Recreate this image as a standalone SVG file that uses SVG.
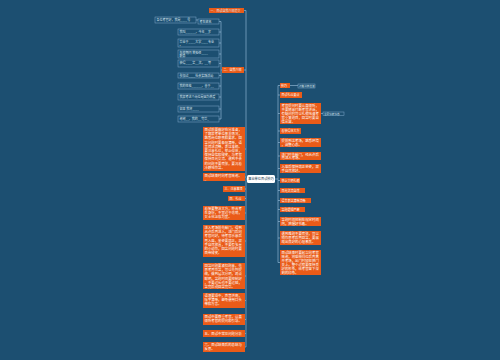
<svg xmlns="http://www.w3.org/2000/svg" width="500" height="360" viewBox="0 0 500 360">
<style>
.bg{fill:#1c4f71}
.o{fill:#ea5b18}
.ol{fill:none;stroke:#7fa9cc;stroke-width:.5}
.t{font-family:"Noto Sans CJK SC","Noto Sans",sans-serif;font-size:3.4px;fill:#ffffff}
.s{font-family:"Noto Sans CJK SC","Noto Sans",sans-serif;font-size:3px;fill:#dce8f2}
.ct{font-family:"Noto Sans CJK SC","Noto Sans",sans-serif;font-size:3.2px;fill:#1c3a52}
.c{fill:none;stroke:#9ec3e0;stroke-width:.6}
</style>
<rect class="bg" x="0" y="0" width="500" height="360"/>
<g id="connectors">
<path class="c" d="M246 10.5V347M244 10.5H246M244 70H246M245 149H246M245 177H246M245 189H246M245 198.5H246M245 213H246M245 241H246M245 276H246M245 300.5H246M245 319.5H246M245 333.5H246M245 347H246M247 179H246"/>
<path class="c" d="M275 179H278M278 85.5V262.5M278 85.5H280M278 95H280M278 113.5H280M278 131H280M278 142.5H280M278 156H280M278 168.5H280M278 180.5H280M278 190.5H280M278 200.5H280M278 209.5H280M278 221.5H280M278 238H280M278 262.5H280"/>
<path class="c" d="M221 21.5V119M222 70H221M219 21.5H221M219 32H221M219 43H221M219 54H221M219 63.5H221M219 75.5H221M219 86H221M219 97H221M219 109H221M219 119H221M196 20H198M290 85.5H298M321 113.5H323"/>
</g>
<g id="center">
<rect x="247" y="175" width="28" height="8" rx="1.5" fill="#ffffff"/>
<text class="ct" x="261" y="180.2" text-anchor="middle">事业单位面试技巧</text>
</g>
<g id="l0"><rect class="o" x="209" y="8" width="35" height="5"/><text class="s" x="210.5" y="11.6" fill="#fff">一、面试自我介绍范文</text></g>
<g id="l_two"><rect class="o" x="222" y="67" width="22" height="6"/><text class="s" x="223.5" y="71" style="fill:#fff">二、自我介绍</text></g>
<g id="o0"><rect class="ol" x="155" y="17" width="41" height="6"/><text class="s" x="156.5" y="21">各位考官好，我是____号</text></g>
<g id="o1"><rect class="ol" x="198" y="19" width="21" height="5"/><text class="s" x="199.5" y="22.6">考生姓名</text></g>
<g id="o2"><rect class="ol" x="178" y="29" width="41" height="6"/><text class="s" x="179.5" y="33">我叫______，今年__岁</text></g>
<g id="o3"><rect class="ol" x="178" y="39" width="41" height="8"/><text class="s" x="179.5" y="42.5">毕业于____大学____专业<tspan x="179.5" dy="3.5">。</tspan></text></g>
<g id="o4"><rect class="ol" x="178" y="50" width="41" height="8"/><text class="s" x="179.5" y="53.5">在校期间      曾担任____<tspan x="179.5" dy="3.5">职务</tspan></text></g>
<g id="o5"><rect class="ol" x="178" y="60" width="41" height="7"/><text class="s" x="179.5" y="64.2">获得____奖__次，__等</text></g>
<g id="o6"><rect class="ol" x="178" y="73" width="41" height="5"/><text class="s" x="179.5" y="76.6">参加过____社会实践活动</text></g>
<g id="o7"><rect class="ol" x="178" y="83" width="41" height="6"/><text class="s" x="179.5" y="87">我的性格______，善于__</text></g>
<g id="o8"><rect class="ol" x="178" y="94" width="41" height="6"/><text class="s" x="179.5" y="98">我报考这个岗位是因为热爱</text></g>
<g id="o9"><rect class="ol" x="178" y="106" width="41" height="6"/><text class="s" x="179.5" y="110">如果      我将____</text></g>
<g id="o10"><rect class="ol" x="178" y="116" width="41" height="6"/><text class="s" x="179.5" y="120">谢谢__，我的__完毕_</text></g>
<g id="l1"><rect class="o" x="203" y="127" width="42" height="44"/><text class="t" x="204.5" y="131">面试前要做好充分准备，<tspan x="204.5" dy="4.2">了解报考单位基本情况，</tspan><tspan x="204.5" dy="4.2">熟悉岗位职责和要求。回</tspan><tspan x="204.5" dy="4.2">答问题时要条理清晰，语</tspan><tspan x="204.5" dy="4.2">言简洁流畅，表达准确。</tspan><tspan x="204.5" dy="4.2">要注意礼仪，举止得体，</tspan><tspan x="204.5" dy="4.2">保持自信和微笑，与考官</tspan><tspan x="204.5" dy="4.2">保持目光交流。遇到不会</tspan><tspan x="204.5" dy="4.2">的问题不要慌张，要沉着</tspan><tspan x="204.5" dy="4.2">冷静地作答。</tspan></text></g>
<g id="l2"><rect class="o" x="203" y="173" width="42" height="8"/><text class="t" x="204.5" y="176.8">面试结束时向考官致谢。<tspan x="204.5" dy="3.6">_</tspan></text></g>
<g id="l3"><rect class="o" x="223" y="186" width="22" height="6"/><text class="s" x="224.5" y="190" style="fill:#fff">三、注意事项</text></g>
<g id="l4"><rect class="o" x="228" y="196" width="17" height="5"/><text class="s" x="229.5" y="199.6" style="fill:#fff">四、礼仪</text></g>
<g id="l5"><rect class="o" x="203" y="206" width="42" height="14"/><text class="t" x="204.5" y="210">着装要整洁大方，符合考<tspan x="204.5" dy="4.2">生身份，不宜过于花哨，</tspan><tspan x="204.5" dy="4.2">女士化淡妆为宜。</tspan></text></g>
<g id="l6"><rect class="o" x="203" y="225" width="42" height="32"/><text class="t" x="204.5" y="229">进入考场前先敲门，得到<tspan x="204.5" dy="4.2">允许后再进入，进门后向</tspan><tspan x="204.5" dy="4.2">考官问好，待考官示意后</tspan><tspan x="204.5" dy="4.2">再入座。坐姿要端正，双</tspan><tspan x="204.5" dy="4.2">手自然放置，不要有多余</tspan><tspan x="204.5" dy="4.2">的小动作，回答问题时要</tspan><tspan x="204.5" dy="4.2">面带微笑。</tspan></text></g>
<g id="l7"><rect class="o" x="203" y="263" width="42" height="26"/><text class="t" x="204.5" y="267">回答问题要紧扣题意，先<tspan x="204.5" dy="4.2">思考再作答，可以先列提</tspan><tspan x="204.5" dy="4.2">纲，做到层次分明，观点</tspan><tspan x="204.5" dy="4.2">鲜明。答题时间要控制好</tspan><tspan x="204.5" dy="4.2">，不要过长也不要过短，</tspan><tspan x="204.5" dy="4.2">答完后说回答完毕。</tspan></text></g>
<g id="l8"><rect class="o" x="203" y="293" width="42" height="15"/><text class="t" x="204.5" y="297">语速要适中，声音洪亮，<tspan x="204.5" dy="4.2">吐字清晰，避免使用口头</tspan><tspan x="204.5" dy="4.2">禅和方言。</tspan></text></g>
<g id="l9"><rect class="o" x="203" y="314" width="42" height="11"/><text class="t" x="204.5" y="318">面试中要尊重考官，认真<tspan x="204.5" dy="4.2">倾听考官的提问和引导。</tspan></text></g>
<g id="l10"><rect class="o" x="203" y="330" width="42" height="7"/><text class="t" x="204.5" y="334.6">五、面试中常见问题分析</text></g>
<g id="l11"><rect class="o" x="203" y="342" width="42" height="10"/><text class="t" x="204.5" y="346">六、面试结束后的总结与<tspan x="204.5" dy="4">反思。</tspan></text></g>
<g id="r1"><rect class="o" x="280" y="83" width="10" height="5"/><text class="s" x="281" y="86.6" style="fill:#fff">技巧</text></g>
<g id="r1c"><rect class="ol" x="298" y="84" width="17" height="4"/><text class="s" x="299" y="87.1" style="font-size:2.6px">沉着冷静应答</text></g>
<g id="r2"><rect class="o" x="280" y="92" width="22" height="6"/><text class="s" x="281.5" y="96" style="fill:#fff">面试礼仪要点</text></g>
<g id="r3"><rect class="o" x="280" y="103" width="41" height="21"/><text class="t" x="281.5" y="107">考官提问时要认真倾听，<tspan x="281.5" dy="4">不要随意打断考官讲话，</tspan><tspan x="281.5" dy="4">有疑问时可以礼貌地请考</tspan><tspan x="281.5" dy="4">官重复题目，回答时要自</tspan><tspan x="281.5" dy="4">信从容。</tspan></text></g>
<g id="r3c"><rect class="ol" x="323" y="112" width="21" height="3.5"/><text class="s" x="324" y="114.8" style="font-size:2.6px">注意仪表仪态</text></g>
<g id="r4"><rect class="o" x="280" y="128" width="21" height="6"/><text class="s" x="281.5" y="132" style="fill:#fff">着装得体大方</text></g>
<g id="r5"><rect class="o" x="280" y="138" width="41" height="9"/><text class="t" x="281.5" y="141.8">提前到达考场，熟悉环境<tspan x="281.5" dy="3.8">，调整心态。</tspan></text></g>
<g id="r6"><rect class="o" x="280" y="152" width="41" height="8"/><text class="t" x="281.5" y="155.5">进门时先敲门，经允许后<tspan x="281.5" dy="3.6">再进入考场。</tspan></text></g>
<g id="r7"><rect class="o" x="280" y="164" width="41" height="9"/><text class="t" x="281.5" y="167.8">入座后保持端正坐姿，双<tspan x="281.5" dy="3.8">手自然放好。</tspan></text></g>
<g id="r8"><rect class="o" x="280" y="178" width="20" height="5"/><text class="s" x="281.5" y="181.6" style="fill:#fff">举止文明礼貌</text></g>
<g id="r9"><rect class="o" x="280" y="188" width="25" height="5"/><text class="s" x="281.5" y="191.6" style="fill:#fff">目光交流自然</text></g>
<g id="r10"><rect class="o" x="280" y="198" width="31" height="5"/><text class="s" x="281.5" y="201.6" style="fill:#fff">语言表达清晰流畅</text></g>
<g id="r11"><rect class="o" x="280" y="207" width="25" height="5"/><text class="s" x="281.5" y="210.6" style="fill:#fff">答题逻辑严密</text></g>
<g id="r12"><rect class="o" x="280" y="217" width="41" height="9"/><text class="t" x="281.5" y="220.8">答题时间控制在规定时间<tspan x="281.5" dy="3.8">内，把握好节奏。</tspan></text></g>
<g id="r13"><rect class="o" x="280" y="231" width="41" height="14"/><text class="t" x="281.5" y="235">遇到难题不要慌张，可以<tspan x="281.5" dy="4.2">稍作思考后再回答，要展</tspan><tspan x="281.5" dy="4.2">现出良好的心理素质。</tspan></text></g>
<g id="r14"><rect class="o" x="280" y="250" width="41" height="25"/><text class="t" x="281.5" y="254">面试结束时要起立向考官<tspan x="281.5" dy="4">致谢，将座椅归位后再离</tspan><tspan x="281.5" dy="4">开考场，出门时轻轻把门</tspan><tspan x="281.5" dy="4">关上，整个过程要保持良</tspan><tspan x="281.5" dy="4">好的形象，给考官留下深</tspan><tspan x="281.5" dy="4">刻的印象。</tspan></text></g>
</svg>
